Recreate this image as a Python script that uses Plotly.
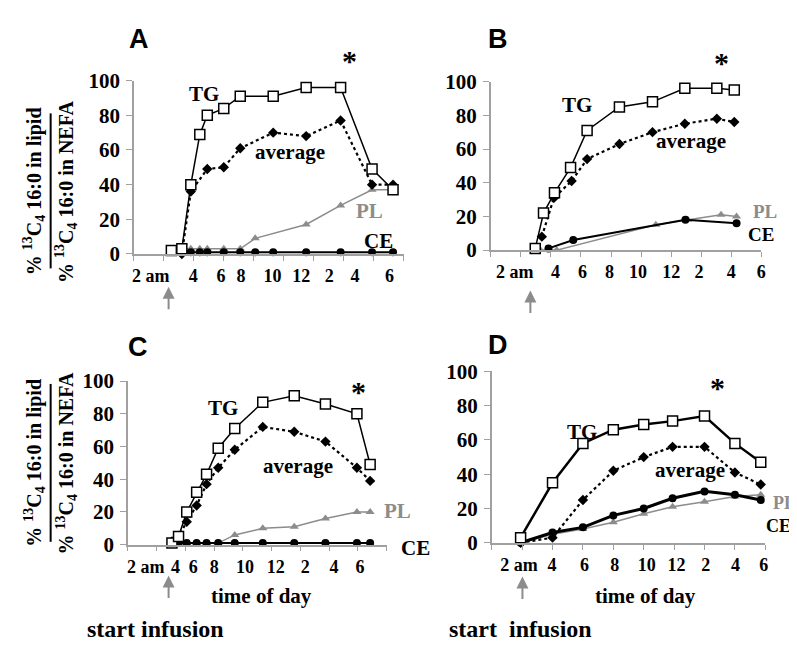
import plotly.graph_objects as go

W, H = 797, 645

# ---------------- data (x = hour of day, y = %) ----------------
tick_text = ["2 am", "4", "6", "8", "10", "12", "2", "4", "6"]

# Panel A
a_tg_x = [2.5, 3.2, 3.8, 4.4, 4.9, 6.0, 7.1, 9.3, 11.5, 13.8, 15.9, 17.3]
a_tg_y = [2, 3, 40, 69, 80, 84, 91, 91, 96, 96, 49, 37]
a_avg_x = [3.2, 3.8, 4.9, 6.0, 7.1, 9.3, 11.5, 13.8, 15.9, 17.3]
a_avg_y = [0, 36, 49, 50, 61, 70, 68, 77, 40, 40]
a_pl_x = [3.2, 3.8, 4.4, 4.9, 6.0, 7.1, 8.1, 11.5, 13.8, 15.9, 17.3]
a_pl_y = [3, 3, 3, 3, 3, 3, 9, 17, 28, 37, 37]
a_ce_x = [3.2, 3.8, 4.4, 4.9, 6.0, 7.1, 8.1, 9.3, 11.5, 13.8, 15.9, 17.3]
a_ce_y = [1, 1, 1, 1, 1, 1, 1, 1, 1, 1, 1, 1]
a_tickvals = [1.13, 3.97, 5.82, 7.15, 9.26, 11.18, 13.04, 14.76, 17.07]

# Panel B
b_tg_x = [2.96, 3.51, 4.24, 5.31, 6.41, 8.56, 10.76, 12.91, 15.04, 16.2]
b_tg_y = [1, 22, 34, 49, 71, 85, 88, 96, 96, 95]
b_avg_x = [3.4, 4.2, 5.38, 6.41, 8.56, 10.76, 12.91, 15.04, 16.2]
b_avg_y = [8, 31, 41, 54, 63, 70, 75, 78, 76]
b_pl_x = [3.3, 4.39, 10.98, 13.1, 15.32, 16.35]
b_pl_y = [0, 0, 15, 18, 21, 20]
b_ce_x = [3.84, 5.49, 12.95, 16.35]
b_ce_y = [1, 6, 18, 16]
b_tickvals = [1.6, 4.3, 6.1, 7.9, 9.8, 12.0, 13.85, 16.0, 18.0]

# Panel C
c_x = [3.06, 3.52, 4.09, 4.78, 5.47, 6.28, 7.43, 9.38, 11.57, 13.74, 15.93, 16.85]
c_tg_y = [1, 5, 20, 32, 43, 59, 71, 87, 91, 86, 80, 49]
c_avg_y = [2, 5, 14, 24, 37, 47, 58, 72, 69, 63, 47, 39]
c_pl_x = [3.52, 4.09, 4.78, 5.47, 6.28, 7.43, 9.38, 11.57, 13.74, 15.93, 16.85]
c_pl_y = [1, 1, 1, 1, 1, 6, 10, 11, 16, 20, 20]
c_ce_x = [3.52, 4.09, 4.78, 5.47, 6.28, 7.43, 9.38, 11.57, 13.74, 15.93, 16.85]
c_ce_y = [1, 1, 1, 1, 1, 1, 1, 1, 1, 1, 1]
c_tickvals = [1.24, 3.31, 4.55, 6.0, 8.14, 10.28, 12.34, 14.34, 16.14]

# Panel D
d_x = [1.9, 4.0, 6.0, 8.0, 10.0, 11.9, 14.0, 16.0, 17.7]
d_tg_y = [3, 35, 58, 66, 69, 71, 74, 58, 47]
d_avg_y = [0, 3, 25, 42, 50, 56, 56, 41, 34]
d_pl_y = [0, 5, 8, 12, 17, 21, 24, 27, 28]
d_ce_y = [0, 6, 9, 16, 20, 26, 30, 28, 25]
d_tickvals = [1.8, 3.96, 6.1, 8.1, 10.2, 12.15, 14.08, 16.04, 17.9]

# ---------------- styling ----------------
GRAY = "#8c8c8c"
AXGRAY = "#a0a0a0"
SERIF = "Liberation Serif"
SANS = "Liberation Sans"


def px(x):
    return x / W


def py(y):
    return 1 - y / H


fig = go.Figure()


def add_panel(i, tg, avg, pl, ce, thick=1.5):
    xa = "x" if i == 1 else f"x{i}"
    ya = "y" if i == 1 else f"y{i}"
    common = dict(xaxis=xa, yaxis=ya, mode="lines+markers", showlegend=False,
                  cliponaxis=False, hoverinfo="x+y")
    fig.add_trace(go.Scatter(x=pl[0], y=pl[1], line=dict(color=GRAY, width=1.5),
                             marker=dict(symbol="triangle-up", size=8, color=GRAY), **common))
    fig.add_trace(go.Scatter(x=ce[0], y=ce[1], line=dict(color="black", width=thick + 0.5),
                             marker=dict(symbol="circle", size=8, color="black"), **common))
    fig.add_trace(go.Scatter(x=avg[0], y=avg[1], line=dict(color="black", width=2.2, dash="dot"),
                             marker=dict(symbol="diamond", size=8, color="black"), **common))
    fig.add_trace(go.Scatter(x=tg[0], y=tg[1], line=dict(color="black", width=thick),
                             marker=dict(symbol="square", size=10, color="white",
                                         line=dict(color="black", width=1.5)), **common))


add_panel(1, (a_tg_x, a_tg_y), (a_avg_x, a_avg_y), (a_pl_x, a_pl_y), (a_ce_x, a_ce_y))
add_panel(2, (b_tg_x, b_tg_y), (b_avg_x, b_avg_y), (b_pl_x, b_pl_y), (b_ce_x, b_ce_y))
add_panel(3, (c_x, c_tg_y), (c_x, c_avg_y), (c_pl_x, c_pl_y), (c_ce_x, c_ce_y))
add_panel(4, (d_x, d_tg_y), (d_x, d_avg_y), (d_x, d_pl_y), (d_x, d_ce_y), thick=2.5)

# panel pixel boxes: (x_left, x_right, y_of_0, y_of_100)
boxes = {
    1: (125, 397, 243, 63),
    2: (485, 758, 239, 64),
    3: (119, 380, 545, 375),
    4: (486, 762, 543, 365),
}
tickvals_all = {1: a_tickvals, 2: b_tickvals, 3: c_tickvals, 4: d_tickvals}

layout = dict(width=W, height=H, margin=dict(l=0, r=0, t=0, b=0),
              paper_bgcolor="white", plot_bgcolor="white", showlegend=False)
for i, (x0, x1, y0, y1) in boxes.items():
    sfx = "" if i == 1 else str(i)
    layout["xaxis" + sfx] = dict(
        domain=[px(x0), px(x1)], range=[0, 18], anchor="y" + sfx,
        showgrid=False, zeroline=False, showline=True, linecolor=AXGRAY, linewidth=1.5,
        tickmode="array", tickvals=tickvals_all[i], ticktext=tick_text,
        ticks="outside", ticklen=5, tickcolor="rgba(0,0,0,0)",
        tickfont=dict(family=SERIF, size=18, color="black", weight="bold"),
        minor=dict(tickmode="array", tickvals=[0, 2, 4, 6, 8, 10, 12, 14, 16, 18],
                   ticks="outside", ticklen=5, tickcolor=AXGRAY, tickwidth=1.2),
    )
    layout["yaxis" + sfx] = dict(
        domain=[py(y0), py(y1)], range=[0, 100], anchor="x" + sfx,
        showgrid=False, zeroline=False, showline=True, linecolor=AXGRAY, linewidth=1.5,
        tickmode="array", tickvals=[0, 20, 40, 60, 80, 100],
        ticks="outside", ticklen=6, tickcolor=AXGRAY, tickwidth=1.2,
        tickfont=dict(family=SERIF, size=21, color="black", weight="bold"),
        ticklabelstandoff=2,
    )
fig.update_layout(**layout)

ann = []


def text(x, y, s, size=20, color="black", family=SERIF, angle=0, xanchor="center"):
    ann.append(dict(x=px(x), y=py(y), xref="paper", yref="paper", text=s, showarrow=False,
                    font=dict(family=family, size=size, color=color, weight="bold"),
                    textangle=angle, xanchor=xanchor, yanchor="middle"))


# panel letters
for s, (x, y) in {"A": (130, 20), "B": (492, 20), "C": (129, 340), "D": (492, 338)}.items():
    text(x, y, s, size=27, family=SANS)
# asterisks
for (x, y) in [(343, 42), (718, 44), (352, 386), (714, 382)]:
    text(x, y, "*", size=30)

# series labels
labels = [
    ("TG", 196, 77, "black", 21), ("average", 282, 137, "black", 21),
    ("PL", 363, 198, GRAY, 21), ("CE", 372, 230, "black", 21),
    ("TG", 572, 88, "black", 21), ("average", 687, 126, "black", 21),
    ("PL", 762, 199, GRAY, 19), ("CE", 758, 223, "black", 19),
    ("TG", 215, 403, "black", 21), ("average", 291, 463, "black", 21),
    ("PL", 391, 510, GRAY, 21), ("CE", 409, 548, "black", 21),
    ("TG", 577, 428, "black", 21), ("average", 686, 467, "black", 21),
    ("PL", 781, 502, GRAY, 18), ("CE", 775, 526, "black", 18),
]
for s, x, y, c, sz in labels:
    text(x, y, s, size=sz, color=c)

# y axis fraction titles
num = "% <sup>13</sup>C<sub>4</sub> 16:0 in lipid"
den = "% <sup>13</sup>C<sub>4</sub> 16:0 in NEFA"
for yc in (178, 460):
    text(25, yc, num, size=20, angle=-90)
    text(57, yc, den, size=20, angle=-90)

shapes = []
for (ya, yb) in [(97, 258), (378, 542)]:
    shapes.append(dict(type="line", xref="paper", yref="paper", x0=px(41), x1=px(41),
                       y0=py(ya), y1=py(yb), line=dict(color="black", width=2)))

# time of day / start infusion
text(254, 598, "time of day", size=21)
text(641, 598, "time of day", size=21)
text(147, 633, "start infusion", size=24)
text(515, 633, "start  infusion", size=24)

# infusion arrows
for (x, yh) in [(160, 277), (525, 281), (160, 577), (517, 578)]:
    ann.append(dict(x=px(x), y=py(yh), xref="paper", yref="paper", text="", showarrow=True,
                    ax=0, ay=24, arrowhead=2, arrowsize=1.2, arrowwidth=2, arrowcolor=GRAY))

fig.update_layout(annotations=ann, shapes=shapes)
fig.write_html("out.html")
